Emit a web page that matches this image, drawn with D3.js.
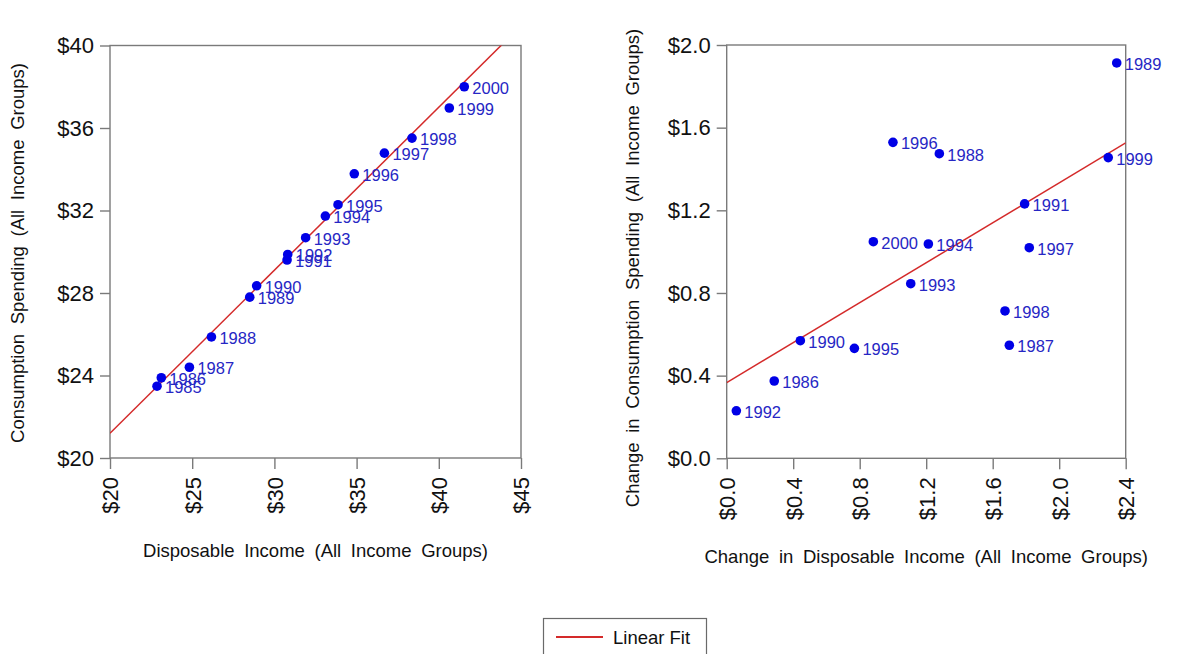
<!DOCTYPE html>
<html>
<head>
<meta charset="utf-8">
<script src="https://cdn.jsdelivr.net/npm/d3@7/dist/d3.min.js"></script>
<style>
  html, body { margin: 0; padding: 0; background: #fff; }
  svg { display: block; font-family: "Liberation Sans", Arial, sans-serif; }
</style>
</head>
<body>
<svg id="chart" width="1184" height="654"></svg>
<script>
// Per-capita disposable income vs consumption spending, thousands of dollars
const levelYears = [1985, 1986, 1987, 1988, 1989, 1990, 1991, 1992, 1993, 1994, 1995, 1996, 1997, 1998, 1999, 2000];
const levelIncome = [22.86, 23.12, 24.83, 26.17, 28.50, 28.92, 30.77, 30.81, 31.90, 33.10, 33.87, 34.86, 36.69, 38.37, 40.64, 41.55];
const levelSpending = [23.48, 23.89, 24.40, 25.87, 27.80, 28.35, 29.60, 29.87, 30.68, 31.73, 32.28, 33.78, 34.78, 35.51, 36.97, 38.00];

// Year-over-year changes
const changeYears = [1986, 1987, 1988, 1989, 1990, 1991, 1992, 1993, 1994, 1995, 1996, 1997, 1998, 1999, 2000];
const changeIncome = [0.286, 1.700, 1.279, 2.346, 0.443, 1.792, 0.058, 1.107, 1.213, 0.768, 1.000, 1.820, 1.674, 2.295, 0.882];
const changeSpending = [0.374, 0.547, 1.474, 1.913, 0.569, 1.231, 0.230, 0.845, 1.037, 0.532, 1.529, 1.019, 0.713, 1.455, 1.048];

const levelXTicks = [20, 25, 30, 35, 40, 45];
const levelYTicks = [20, 24, 28, 32, 36, 40];
const changeXTicks = [0, 0.4, 0.8, 1.2, 1.6, 2.0, 2.4];
const changeYTicks = [0, 0.4, 0.8, 1.2, 1.6, 2.0];

const svg = d3.select("#chart");
const frameColor = "#7a7a7a";
const pointColor = "#0000e6";
const labelColor = "#2626c4";
const fitColor = "#d42a2a";

function linearFit(xs, ys) {
  const mx = d3.mean(xs), my = d3.mean(ys);
  let sxy = 0, sxx = 0;
  xs.forEach((x, i) => { sxy += (x - mx) * (ys[i] - my); sxx += (x - mx) * (x - mx); });
  const b = sxy / sxx;
  return { slope: b, intercept: my - b * mx };
}

function panel(opt) {
  const x = d3.scaleLinear().domain(opt.xDomain).range(opt.xRange);
  const y = d3.scaleLinear().domain(opt.yDomain).range(opt.yRange);
  const g = svg.append("g");
  const id = "clip-" + opt.key;

  g.append("clipPath").attr("id", id).append("rect")
    .attr("x", opt.xRange[0]).attr("y", opt.yRange[1])
    .attr("width", opt.xRange[1] - opt.xRange[0])
    .attr("height", opt.yRange[0] - opt.yRange[1]);

  // plot frame
  g.append("rect")
    .attr("x", opt.xRange[0]).attr("y", opt.yRange[1])
    .attr("width", opt.xRange[1] - opt.xRange[0])
    .attr("height", opt.yRange[0] - opt.yRange[1])
    .attr("fill", "none").attr("stroke", frameColor).attr("stroke-width", 1.4);

  // x axis
  const xAxis = g.append("g")
    .attr("transform", `translate(0,${opt.yRange[0]})`)
    .call(d3.axisBottom(x).tickValues(opt.xTicks).tickSize(11).tickFormat(opt.xFmt));
  xAxis.select(".domain").remove();
  xAxis.selectAll(".tick line").attr("stroke", frameColor).attr("stroke-width", 1.4);
  xAxis.selectAll(".tick text")
    .attr("font-size", 22).attr("fill", "#111")
    .attr("font-family", "'Liberation Sans', Arial, sans-serif")
    .attr("text-anchor", "end")
    .attr("transform", "translate(0,19) rotate(-90)")
    .attr("x", 0).attr("y", 0).attr("dy", "0.36em");

  // y axis
  const yAxis = g.append("g")
    .attr("transform", `translate(${opt.xRange[0]},0)`)
    .call(d3.axisLeft(y).tickValues(opt.yTicks).tickSize(10).tickPadding(6).tickFormat(opt.yFmt));
  yAxis.select(".domain").remove();
  yAxis.selectAll(".tick line").attr("stroke", frameColor).attr("stroke-width", 1.4);
  yAxis.selectAll(".tick text")
    .attr("font-size", 22).attr("fill", "#111")
    .attr("font-family", "'Liberation Sans', Arial, sans-serif");

  // fitted line
  const fit = linearFit(opt.xs, opt.ys);
  const xd = x.domain();
  g.append("line")
    .attr("clip-path", `url(#${id})`)
    .attr("x1", x(xd[0])).attr("y1", y(fit.intercept + fit.slope * xd[0]))
    .attr("x2", x(xd[1])).attr("y2", y(fit.intercept + fit.slope * xd[1]))
    .attr("stroke", fitColor).attr("stroke-width", 1.5);

  // points
  const pts = opt.years.map((yr, i) => ({ year: yr, x: opt.xs[i], y: opt.ys[i] }));
  g.selectAll("circle.pt").data(pts).enter().append("circle")
    .attr("class", "pt")
    .attr("cx", d => x(d.x)).attr("cy", d => y(d.y)).attr("r", 4.8)
    .attr("fill", pointColor);

  g.selectAll("text.lbl").data(pts).enter().append("text")
    .attr("class", "lbl")
    .attr("x", d => x(d.x) + 8).attr("y", d => y(d.y) + 1)
    .attr("dy", "0.36em")
    .attr("font-size", 16.5).attr("fill", labelColor)
    .text(d => d.year);

  // axis titles
  g.append("text")
    .attr("x", (opt.xRange[0] + opt.xRange[1]) / 2).attr("y", opt.xTitleY)
    .attr("text-anchor", "middle").attr("font-size", 18.5).attr("fill", "#111")
    .attr("word-spacing", 4.5)
    .text(opt.xTitle);
  g.append("text")
    .attr("transform", `translate(${opt.yTitleX},${opt.yTitleCenter}) rotate(-90)`)
    .attr("text-anchor", "middle").attr("font-size", 18.5).attr("fill", "#111")
    .attr("word-spacing", 4.5)
    .text(opt.yTitle);
}

const dollars0 = d => "$" + d3.format("d")(d);
const dollars1 = d => "$" + d3.format(".1f")(d);

panel({
  key: "level",
  years: levelYears, xs: levelIncome, ys: levelSpending,
  xDomain: [20, 45], yDomain: [20, 40],
  xRange: [110, 521], yRange: [458, 45.5],
  xTicks: levelXTicks, yTicks: levelYTicks,
  xFmt: dollars0, yFmt: dollars0,
  xTitle: "Disposable Income (All Income Groups)", xTitleY: 557,
  yTitle: "Consumption Spending (All Income Groups)", yTitleX: 24, yTitleCenter: 253
});

panel({
  key: "change",
  years: changeYears, xs: changeIncome, ys: changeSpending,
  xDomain: [0, 2.4], yDomain: [0, 2.0],
  xRange: [726.7, 1125.7], yRange: [458.3, 45],
  xTicks: changeXTicks, yTicks: changeYTicks,
  xFmt: dollars1, yFmt: dollars1,
  xTitle: "Change in Disposable Income (All Income Groups)", xTitleY: 563,
  yTitle: "Change in Consumption Spending (All Income Groups)", yTitleX: 639, yTitleCenter: 268
});

// legend
const legend = svg.append("g");
legend.append("rect")
  .attr("x", 543.5).attr("y", 618.5).attr("width", 163).attr("height", 50)
  .attr("fill", "#fff").attr("stroke", "#6a6a6a").attr("stroke-width", 1.2);
legend.append("line")
  .attr("x1", 556).attr("x2", 603).attr("y1", 637).attr("y2", 637)
  .attr("stroke", fitColor).attr("stroke-width", 2);
legend.append("text")
  .attr("x", 613).attr("y", 643.5)
  .attr("font-size", 18.5).attr("fill", "#111")
  .text("Linear Fit");
</script>
</body>
</html>
